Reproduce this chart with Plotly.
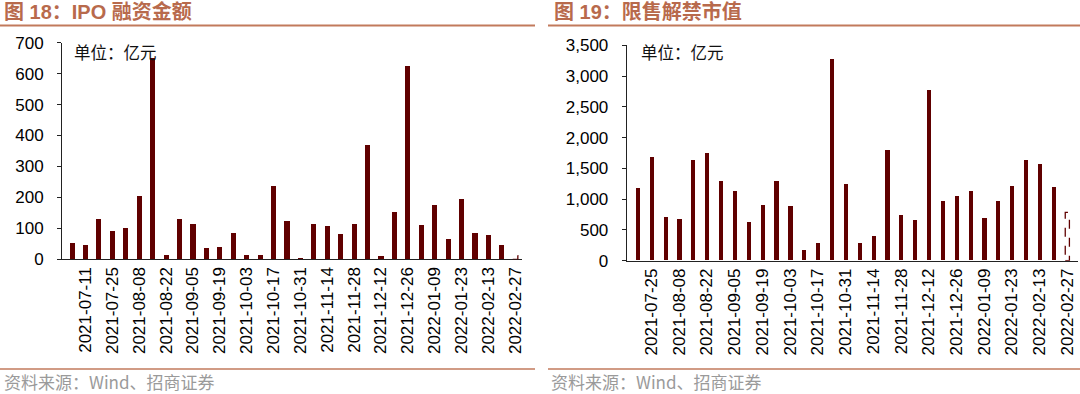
import plotly.graph_objects as go

# ---------------- data ----------------
ipo_dates = [
    "2021-07-04", "2021-07-11", "2021-07-18", "2021-07-25", "2021-08-01", "2021-08-08",
    "2021-08-15", "2021-08-22", "2021-08-29", "2021-09-05", "2021-09-12", "2021-09-19",
    "2021-09-26", "2021-10-03", "2021-10-10", "2021-10-17", "2021-10-24", "2021-10-31",
    "2021-11-07", "2021-11-14", "2021-11-21", "2021-11-28", "2021-12-05", "2021-12-12",
    "2021-12-19", "2021-12-26", "2022-01-02", "2022-01-09", "2022-01-16", "2022-01-23",
    "2022-01-30", "2022-02-13", "2022-02-20", "2022-02-27",
]
ipo_values = [
    55, 47, 131, 93, 103, 205,
    652, 16, 131, 116, 39, 42,
    85, 14, 14, 238, 125, 6,
    116, 107, 84, 114, 370, 11,
    153, 626, 113, 178, 68, 196,
    85, 79, 47, 12,
]

unlock_dates = [
    "2021-07-18", "2021-07-25", "2021-08-01", "2021-08-08", "2021-08-15", "2021-08-22",
    "2021-08-29", "2021-09-05", "2021-09-12", "2021-09-19", "2021-09-26", "2021-10-03",
    "2021-10-10", "2021-10-17", "2021-10-24", "2021-10-31", "2021-11-07", "2021-11-14",
    "2021-11-21", "2021-11-28", "2021-12-05", "2021-12-12", "2021-12-19", "2021-12-26",
    "2022-01-02", "2022-01-09", "2022-01-16", "2022-01-23", "2022-01-30", "2022-02-13",
    "2022-02-20", "2022-02-27",
]
unlock_values = [
    1180, 1674, 704, 666, 1625, 1739,
    1289, 1132, 628, 899, 1284, 888,
    165, 276, 3272, 1240, 276, 390,
    1793, 737, 655, 2768, 959, 1051,
    1127, 688, 970, 1208, 1625, 1560,
    1197, 786,
]

title_left = "图 18：IPO 融资金额"
title_right = "图 19：限售解禁市值"
unit_text = "单位：亿元"
source_text = "资料来源：Wind、招商证券"

# ---------------- style ----------------
W, H = 1080, 394
BAR = "#600000"
TITLE_C = "#b86a4c"
LINE_C = "#c27a5c"
LAT = "Liberation Sans, Arial, Noto Sans CJK SC"
CJK = "Noto Sans CJK SC, Liberation Sans"
w_left, w_right = 0.38, 0.30


def px(x):
    return x / W


def py(y):
    return 1 - y / H


fig = go.Figure()

# solid bars (all but the last, which is estimated / dashed)
fig.add_trace(go.Bar(x=ipo_dates[:-1], y=ipo_values[:-1], marker_color=BAR,
                     marker_line_width=0, width=w_left, xaxis="x", yaxis="y",
                     showlegend=False))
fig.add_trace(go.Bar(x=unlock_dates[:-1], y=unlock_values[:-1], marker_color=BAR,
                     marker_line_width=0, width=w_right, xaxis="x2", yaxis="y2",
                     showlegend=False))
# invisible placeholders so the last category exists on each axis
fig.add_trace(go.Bar(x=ipo_dates[-1:], y=[0], marker_color="rgba(0,0,0,0)",
                     width=w_left, xaxis="x", yaxis="y", showlegend=False))
fig.add_trace(go.Bar(x=unlock_dates[-1:], y=[0], marker_color="rgba(0,0,0,0)",
                     width=w_right, xaxis="x2", yaxis="y2", showlegend=False))

shapes = []
# dashed outline for the last (incomplete) bars
for dates, vals, w, xr, yr in [(ipo_dates, ipo_values, w_left, "x", "y"),
                               (unlock_dates, unlock_values, w_right, "x2", "y2")]:
    i = len(dates) - 1
    shapes.append(dict(type="rect", xref=xr, yref=yr, x0=i - w / 2, x1=i + w / 2,
                       y0=0, y1=vals[-1], line=dict(color=BAR, width=1.3, dash="dash"),
                       fillcolor="rgba(0,0,0,0)", layer="above"))

# decorative rules
for x0, x1 in [(0, 535), (548, 1080)]:
    shapes.append(dict(type="line", xref="paper", yref="paper", x0=px(x0), x1=px(x1),
                       y0=py(25.5), y1=py(25.5), line=dict(color=LINE_C, width=2)))
    shapes.append(dict(type="line", xref="paper", yref="paper", x0=px(x0), x1=px(x1),
                       y0=py(369), y1=py(369), line=dict(color=LINE_C, width=1.5)))

annotations = [
    dict(text=f"<b>{title_left}</b>", x=px(2), y=py(12), xref="paper", yref="paper",
         xanchor="left", yanchor="middle", showarrow=False,
         font=dict(family=LAT, size=20, color=TITLE_C)),
    dict(text=f"<b>{title_right}</b>", x=px(552), y=py(12), xref="paper", yref="paper",
         xanchor="left", yanchor="middle", showarrow=False,
         font=dict(family=LAT, size=20, color=TITLE_C)),
    dict(text=unit_text, x=px(72), y=py(52), xref="paper", yref="paper",
         xanchor="left", yanchor="middle", showarrow=False,
         font=dict(family=CJK, size=16.5, color="#111")),
    dict(text=unit_text, x=px(639), y=py(52), xref="paper", yref="paper",
         xanchor="left", yanchor="middle", showarrow=False,
         font=dict(family=CJK, size=16.5, color="#111")),
    dict(text=source_text, x=px(2), y=py(381), xref="paper", yref="paper",
         xanchor="left", yanchor="middle", showarrow=False,
         font=dict(family=CJK, size=17, color="#9a9a9a")),
    dict(text=source_text, x=px(549), y=py(381), xref="paper", yref="paper",
         xanchor="left", yanchor="middle", showarrow=False,
         font=dict(family=CJK, size=17, color="#9a9a9a")),
]

xcommon = dict(type="category", showline=True, linecolor="#222", linewidth=1,
               ticks="", tickangle=-90, showgrid=False, zeroline=False, automargin=False,
               tickfont=dict(family=LAT, size=17, color="#000"))
ycommon = dict(showline=True, linecolor="#222", linewidth=1, ticks="outside",
               ticklen=4, tickcolor="#222", showgrid=False, zeroline=False,
               automargin=False,
               tickfont=dict(family=LAT, size=17, color="#000"), ticklabelstandoff=10)

fig.update_layout(
    width=W, height=H, margin=dict(l=0, r=0, t=0, b=0, autoexpand=False),
    paper_bgcolor="white", plot_bgcolor="white", showlegend=False, bargap=0,
    barmode="overlay",
    xaxis=dict(**xcommon, domain=[px(62), px(522)], range=[-0.75, len(ipo_dates) - 0.5],
               tickvals=ipo_dates[1::2], anchor="y"),
    yaxis=dict(**ycommon, domain=[py(259.3), py(42.7)], range=[0, 700], dtick=100,
               anchor="x"),
    xaxis2=dict(**xcommon, domain=[px(626.7), px(1078)],
                range=[-0.79, len(unlock_dates) - 1 + 0.77],
                tickvals=unlock_dates[1::2], anchor="y2"),
    yaxis2=dict(**ycommon, domain=[py(260.7), py(45.3)], range=[0, 3500], dtick=500,
                tickformat=",", anchor="x2"),
    shapes=shapes, annotations=annotations,
)

fig.write_html(
    "out.html",
    config={"displayModeBar": False},
    post_script="document.body.style.margin='0';document.body.style.padding='0';"
                "document.body.style.overflow='hidden';",
)
